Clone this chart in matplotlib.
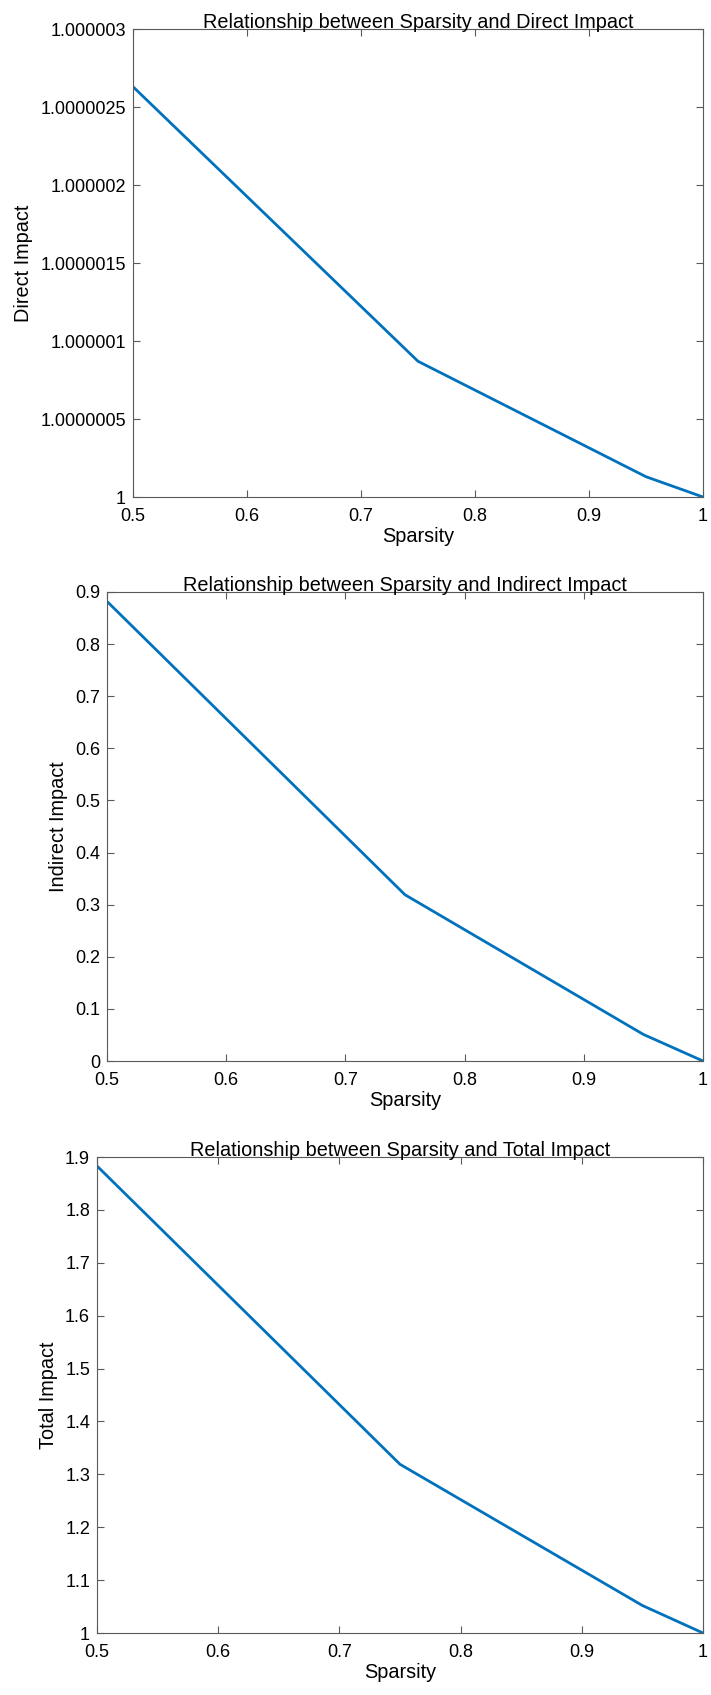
import numpy as np
import matplotlib
matplotlib.use("Agg")
from matplotlib import pyplot as plt
from matplotlib.ticker import FuncFormatter


# valores
sparsity = [0.5, 0.75, 0.95, 1.0]
direct_impact = [1.00000263, 1.00000087, 1.00000013, 1.0]
indirect_impact = [0.882, 0.319, 0.051, 0.0]
total_impact = [1.883, 1.319, 1.052, 1.0]

x_ticks = [0.5, 0.6, 0.7, 0.8, 0.9, 1.0]
direct_ticks = [1.0, 1.0000005, 1.000001, 1.0000015, 1.000002, 1.0000025, 1.000003]
indirect_ticks = [0.0, 0.1, 0.2, 0.3, 0.4, 0.5, 0.6, 0.7, 0.8, 0.9]
total_ticks = [1.0, 1.1, 1.2, 1.3, 1.4, 1.5, 1.6, 1.7, 1.8, 1.9]

LINE_COLOR = "#0072BD"
AXIS_COLOR = "#5a5a5a"
FS_TICK = 13
FS_LABEL = 14.3

plt.rcParams['font.family'] = ['Liberation Sans', 'DejaVu Sans']


def fmtTick(v, pos=None):
    s = "%.7f" % v
    s = s.rstrip("0").rstrip(".")
    return s


def drawPanel(fig, rect, yvals, yticks, title, ylabel):
    ax = fig.add_axes(rect)
    ax.plot(sparsity, yvals, color=LINE_COLOR, linewidth=2)
    ax.set_xlim(0.5, 1.0)
    ax.set_ylim(yticks[0], yticks[-1])
    ax.set_xticks(x_ticks)
    ax.set_yticks(yticks)
    ax.xaxis.set_major_formatter(FuncFormatter(fmtTick))
    ax.yaxis.set_major_formatter(FuncFormatter(fmtTick))
    ax.tick_params(direction="in", length=5, width=0.8, color=AXIS_COLOR,
                   labelsize=FS_TICK, top=True, right=True)
    ax.tick_params(axis="x", pad=8)
    ax.tick_params(axis="y", pad=5)
    for sp in ax.spines.values():
        sp.set_color(AXIS_COLOR)
        sp.set_linewidth(0.8)
    ax.set_title(title, fontsize=FS_LABEL, pad=1)
    ax.set_xlabel("Sparsity", fontsize=FS_LABEL, labelpad=1)
    ax.set_ylabel(ylabel, fontsize=FS_LABEL, labelpad=5)
    return ax


def main():
    W, H = 711, 1695
    fig = plt.figure(figsize=(W / 100, H / 100), dpi=100)

    # (esquerda, topo, direita, base) em pixels
    boxes = [(133, 29, 703, 497), (107, 592, 703, 1061), (97, 1157, 703, 1633)]
    rects = [(l / W, 1 - b / H, (r - l) / W, (b - t) / H) for l, t, r, b in boxes]

    drawPanel(fig, rects[0], direct_impact, direct_ticks,
              "Relationship between Sparsity and Direct Impact", "Direct Impact")
    drawPanel(fig, rects[1], indirect_impact, indirect_ticks,
              "Relationship between Sparsity and Indirect Impact", "Indirect Impact")
    drawPanel(fig, rects[2], total_impact, total_ticks,
              "Relationship between Sparsity and Total Impact", "Total Impact")

    fig.savefig("out.png", dpi=100)
    return 0


if __name__ == "__main__":
    main()
